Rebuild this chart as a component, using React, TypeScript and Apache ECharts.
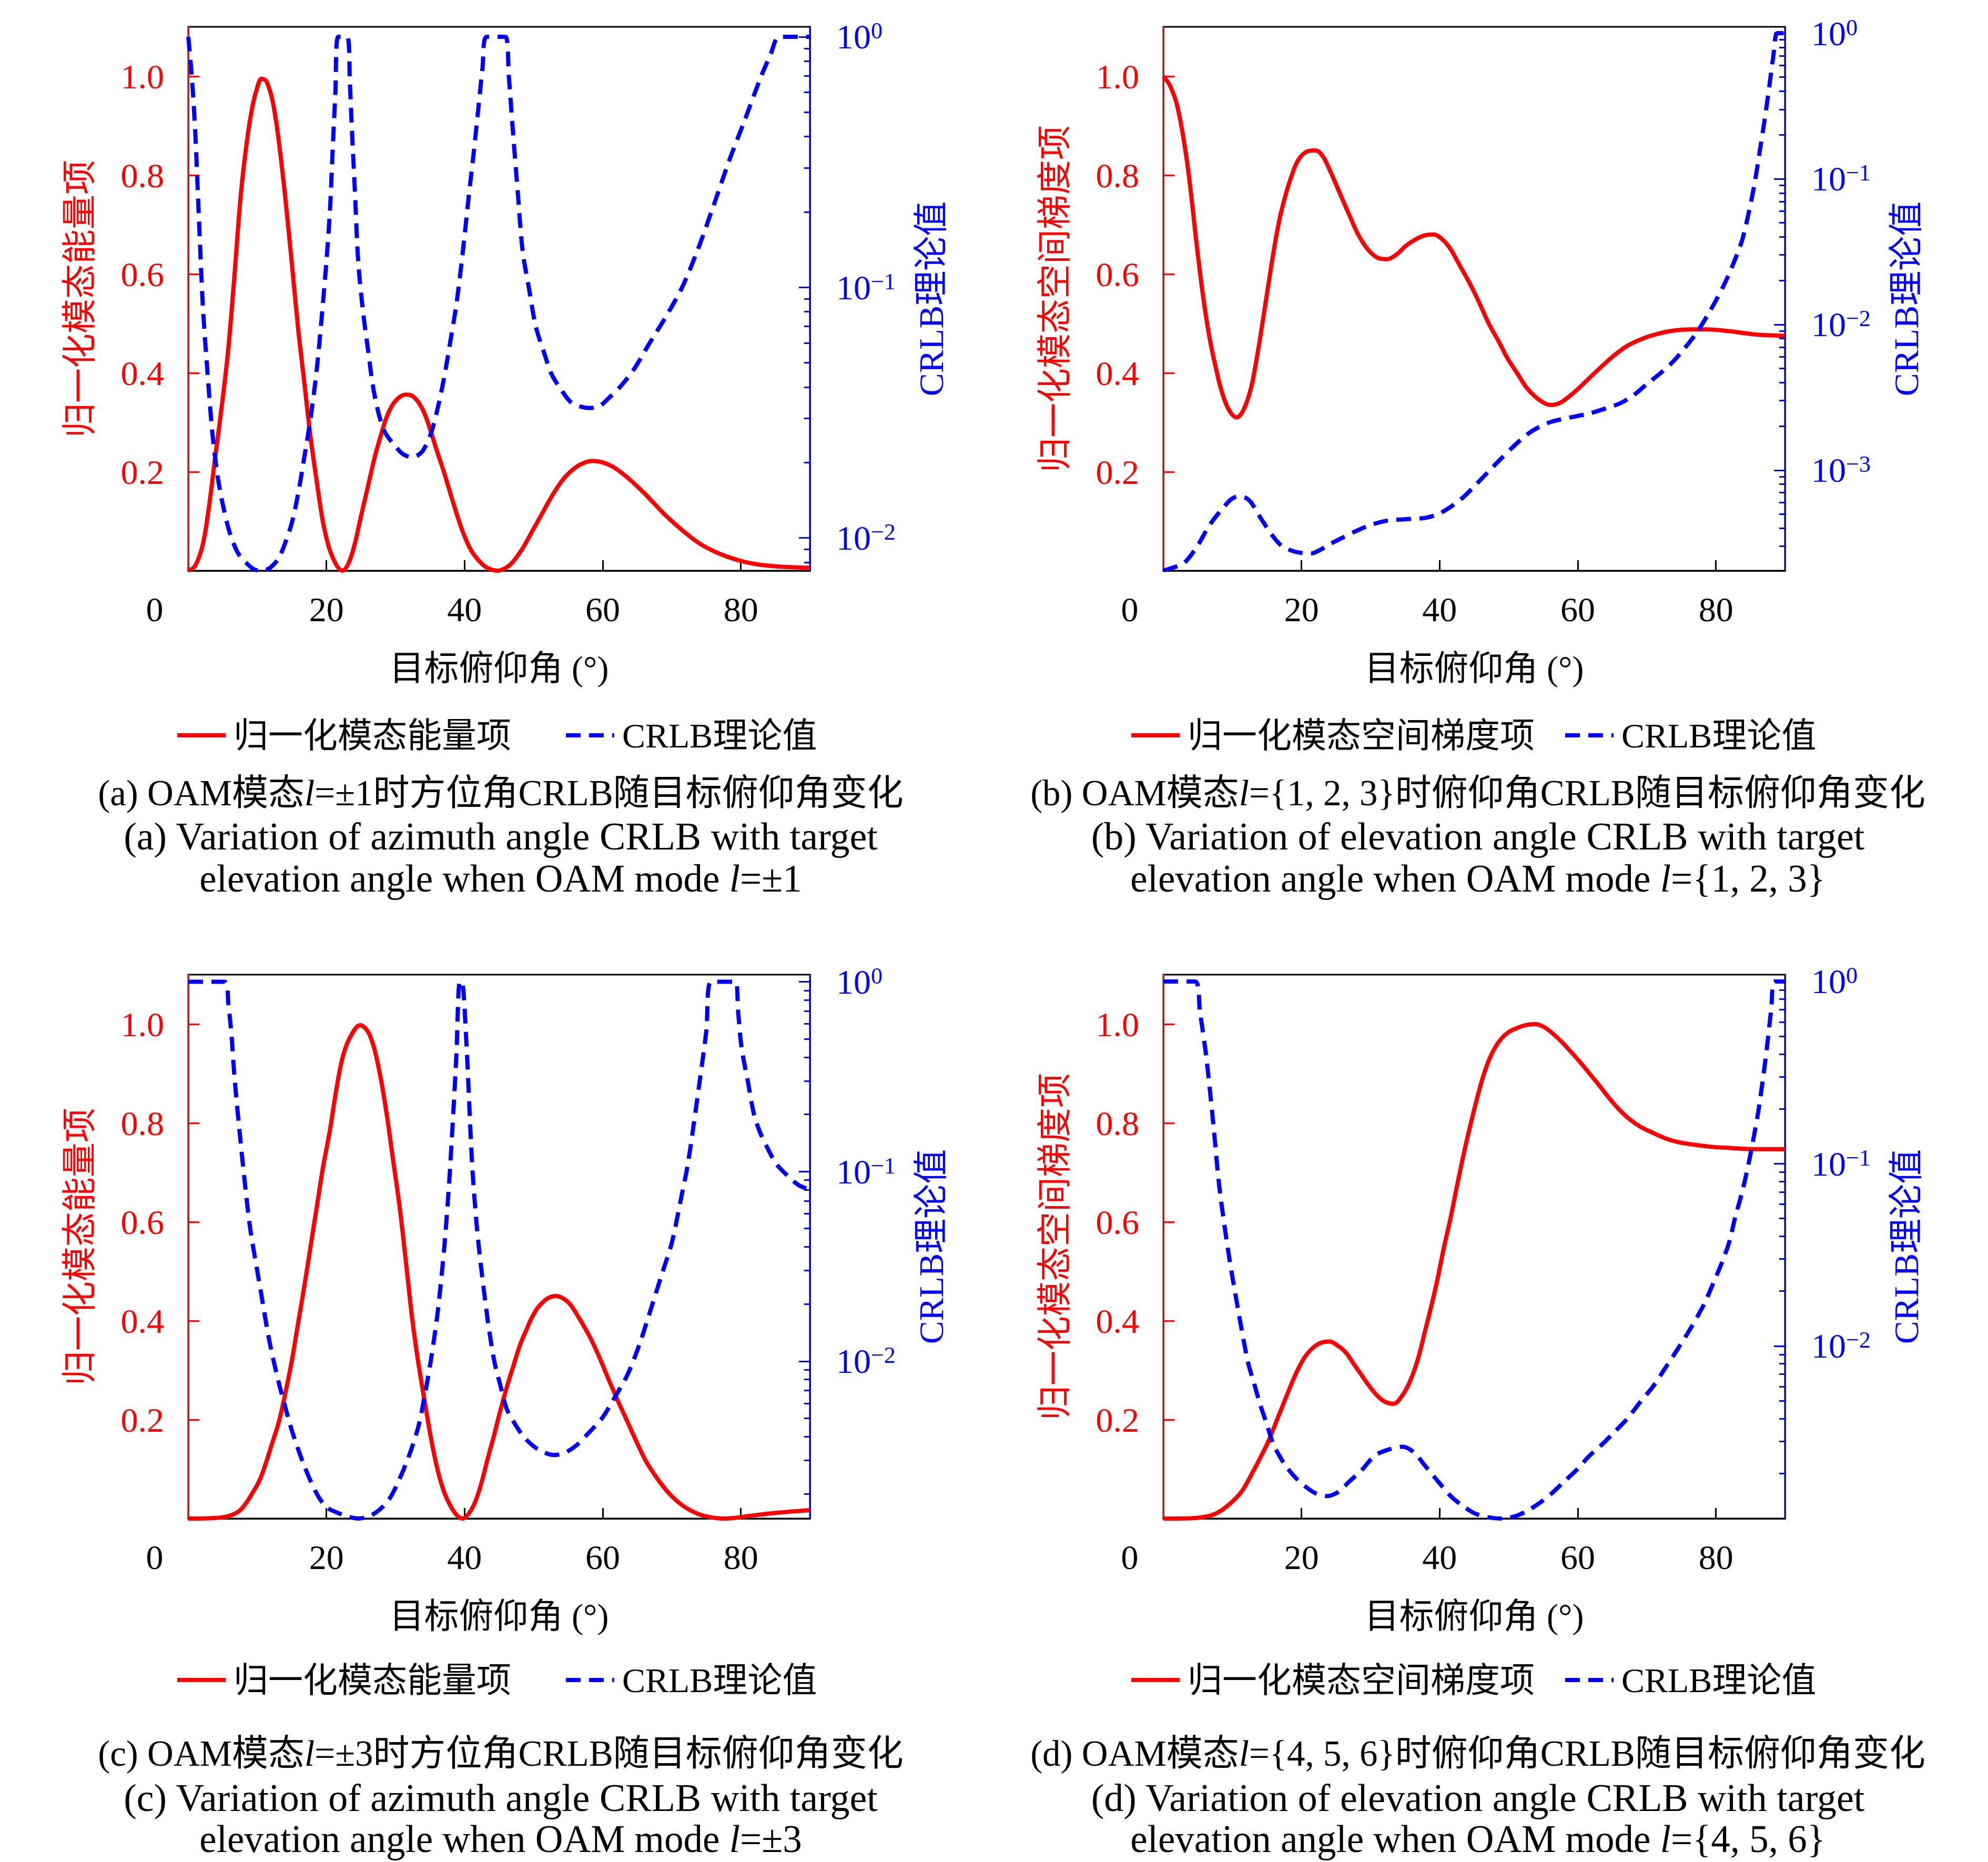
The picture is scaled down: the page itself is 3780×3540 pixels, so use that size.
import React, { useEffect, useRef } from 'react';
import * as echarts from 'echarts';

const FONT = "'Liberation Serif', 'Noto Sans CJK SC', serif";
const RED = '#ff0000';
const BLUE = '#0000ff';

// ---------- data ----------
const aRedX = [0, 1, 2.1, 3, 3.9, 5, 5.8, 6.7, 7.6, 8.5, 9.3, 10, 10.6, 11.3, 12.2, 13, 14, 15, 15.9, 16.8, 17.7, 18.6, 19.5, 20.3, 20.9, 21.6, 22.3, 23.2, 24.1, 25, 26, 27, 27.8, 28.7, 29.6, 30.5, 31.4, 32.2, 33.2, 34.2, 35.1, 36, 37, 38.3, 39.7, 41, 42.5, 43.7, 44.8, 46, 47, 48.4, 49.8, 51.2, 52.6, 54, 55.3, 56.8, 58.5, 60, 61.5, 63, 64.5, 66, 67.5, 69.1, 71.5, 73.7, 76, 78.3, 80.5, 82.8, 86, 90];
const aRedY = [0, 0.01, 0.053, 0.13, 0.23, 0.35, 0.45, 0.6, 0.76, 0.87, 0.94, 0.978, 0.995, 0.99, 0.95, 0.88, 0.76, 0.62, 0.49, 0.38, 0.27, 0.18, 0.098, 0.05, 0.027, 0.008, 0, 0.015, 0.054, 0.11, 0.17, 0.23, 0.27, 0.31, 0.336, 0.35, 0.356, 0.355, 0.343, 0.318, 0.282, 0.242, 0.2, 0.14, 0.08, 0.04, 0.014, 0.003, 0, 0.006, 0.018, 0.045, 0.08, 0.115, 0.15, 0.18, 0.2, 0.215, 0.222, 0.219, 0.21, 0.195, 0.177, 0.157, 0.135, 0.112, 0.082, 0.058, 0.04, 0.027, 0.018, 0.012, 0.008, 0.006];
const aBlueX = [0, 0.5, 1, 1.5, 2.1, 2.8, 3.5, 4.2, 4.9, 6, 7.2, 8.5, 9.5, 10.4, 11.5, 12.3, 13.1, 14, 15, 15.9, 16.8, 17.7, 18.6, 19.3, 20, 20.5, 20.9, 21.3, 21.7, 23, 23.4, 23.7, 24.1, 24.6, 25.3, 26, 26.9, 28.3, 30.1, 31.2, 32.4, 33.8, 35.1, 36, 37, 37.9, 38.8, 39.7, 40.6, 41.3, 42, 42.6, 43.2, 45.9, 46.4, 47, 47.7, 48.4, 49.3, 50.3, 51.5, 52.6, 54, 55.3, 56.7, 58.1, 59.5, 60.8, 62.5, 64.5, 66.8, 69.1, 71.5, 73.7, 76, 78.3, 80.5, 82.8, 84.3, 85.6, 90];
const aBlueY = [1, 0.7, 0.42, 0.2, 0.085, 0.045, 0.026, 0.018, 0.014, 0.0105, 0.0087, 0.0079, 0.0075, 0.0074, 0.0075, 0.0078, 0.0083, 0.0095, 0.0115, 0.015, 0.021, 0.03, 0.047, 0.075, 0.127, 0.2, 0.35, 0.6, 1, 1, 0.65, 0.42, 0.25, 0.127, 0.08, 0.057, 0.038, 0.027, 0.023, 0.0215, 0.021, 0.022, 0.026, 0.032, 0.043, 0.06, 0.085, 0.135, 0.23, 0.34, 0.52, 0.75, 1, 1, 0.7, 0.42, 0.24, 0.14, 0.1, 0.07, 0.055, 0.045, 0.039, 0.035, 0.0335, 0.033, 0.0335, 0.036, 0.04, 0.047, 0.06, 0.076, 0.1, 0.14, 0.21, 0.32, 0.46, 0.68, 0.85, 1, 1];

const bRedX = [0, 1, 2.1, 3.5, 4.9, 5.8, 6.7, 7.6, 8.5, 9.5, 10.6, 11.6, 12.7, 13.4, 14, 15, 15.9, 16.8, 17.7, 18.6, 19.5, 20.7, 22, 23, 24.1, 25.5, 26.9, 28.2, 29.6, 31, 32.4, 33.8, 35.1, 36.5, 37.8, 39.1, 40.4, 41.6, 43, 44.4, 45.8, 47.1, 48.5, 49.8, 51.2, 52.6, 54, 55.3, 56.2, 57.5, 58.7, 59.9, 61.7, 63.6, 65.4, 67.2, 69.5, 71.8, 74, 76.4, 78.7, 81, 83.3, 85.6, 88, 90];
const bRedY = [1.0, 0.98, 0.935, 0.82, 0.65, 0.55, 0.47, 0.41, 0.36, 0.325, 0.31, 0.325, 0.37, 0.42, 0.47, 0.56, 0.64, 0.71, 0.76, 0.8, 0.83, 0.847, 0.85, 0.84, 0.81, 0.765, 0.72, 0.68, 0.65, 0.633, 0.63, 0.64, 0.657, 0.67, 0.678, 0.68, 0.67, 0.65, 0.615, 0.58, 0.54, 0.5, 0.465, 0.43, 0.4, 0.37, 0.35, 0.338, 0.335, 0.34, 0.352, 0.366, 0.39, 0.415, 0.437, 0.455, 0.47, 0.48, 0.486, 0.488, 0.488, 0.486, 0.482, 0.478, 0.476, 0.475];
const bBlueX = [0, 1.5, 3, 4.9, 6.7, 8.5, 9.8, 10.8, 11.8, 12.7, 14.2, 15.9, 17.2, 18.6, 20, 21.4, 22.8, 24.1, 26, 27.8, 30, 32.4, 35, 37.9, 39.8, 41.6, 43.4, 45.2, 47, 48.9, 50.8, 52.6, 54.4, 56.2, 58.9, 61.7, 64, 66.3, 68.2, 70, 71.9, 73.7, 75.5, 77.3, 79.2, 81, 82.5, 83.8, 84.8, 85.6, 86.3, 87, 87.7, 88.3, 88.9, 90];
const bBlueY = [2.05e-4, 2.15e-4, 2.3e-4, 3.0e-4, 4.2e-4, 5.4e-4, 6.3e-4, 6.6e-4, 6.5e-4, 6.0e-4, 4.6e-4, 3.5e-4, 3.0e-4, 2.8e-4, 2.7e-4, 2.68e-4, 2.85e-4, 3.1e-4, 3.45e-4, 3.8e-4, 4.2e-4, 4.5e-4, 4.6e-4, 4.7e-4, 5.0e-4, 5.6e-4, 6.5e-4, 7.9e-4, 9.7e-4, 1.2e-3, 1.47e-3, 1.75e-3, 1.98e-3, 2.15e-3, 2.3e-3, 2.45e-3, 2.65e-3, 2.9e-3, 3.3e-3, 3.9e-3, 4.6e-3, 5.5e-3, 6.9e-3, 8.9e-3, 0.0125, 0.018, 0.026, 0.038, 0.06, 0.093, 0.15, 0.245, 0.42, 0.69, 1, 1];

const cRedX = [0, 3, 5.8, 7.6, 9.4, 10.4, 11.3, 12.2, 13.1, 14, 15, 15.9, 16.8, 17.7, 18.6, 19.5, 20.5, 21.4, 22.3, 23.3, 24.9, 26, 26.9, 27.8, 28.7, 29.6, 30.6, 31.5, 32.4, 33.3, 34.2, 35.1, 36.1, 37, 37.9, 38.8, 39.7, 40.6, 41.6, 42.5, 43.4, 44.3, 45.2, 46.1, 47.1, 48, 48.9, 49.8, 50.7, 52, 53.2, 54.3, 55.3, 56.6, 58, 59.4, 60.8, 62.2, 63.6, 64.9, 66.3, 68.2, 70, 71.8, 73.7, 75.5, 77.4, 79, 81, 82.8, 84.7, 87.3, 90];
const cRedY = [0, 0.0005, 0.005, 0.018, 0.054, 0.08, 0.115, 0.155, 0.195, 0.25, 0.32, 0.395, 0.47, 0.55, 0.63, 0.71, 0.785, 0.865, 0.93, 0.97, 0.998, 0.985, 0.952, 0.895, 0.82, 0.73, 0.63, 0.52, 0.406, 0.315, 0.239, 0.165, 0.098, 0.055, 0.027, 0.008, 0, 0.01, 0.036, 0.075, 0.124, 0.17, 0.22, 0.265, 0.31, 0.35, 0.38, 0.408, 0.428, 0.445, 0.45, 0.445, 0.433, 0.405, 0.371, 0.33, 0.283, 0.238, 0.195, 0.155, 0.115, 0.075, 0.045, 0.024, 0.01, 0.003, 0, 0.001, 0.005, 0.008, 0.011, 0.014, 0.017];
const cBlueX = [0, 5.3, 5.8, 6.3, 6.7, 7.6, 8.3, 9, 10.4, 11.7, 13.1, 14, 15, 16.8, 18.6, 20, 21.4, 23, 24.6, 26.2, 27.8, 29.2, 30.6, 32, 33.3, 34.2, 35.1, 36.1, 37, 37.7, 38.3, 38.8, 39.3, 39.6, 40.2, 41.1, 41.8, 42.5, 43.4, 44.3, 45.2, 46.1, 47.4, 48.8, 50.8, 53, 54.6, 56.2, 58, 59.9, 61.7, 63.6, 65.4, 67.2, 68.6, 70, 71.2, 72.3, 73.2, 74.1, 75, 75.7, 79.2, 79.6, 80.1, 81, 81.9, 82.8, 83.8, 85.1, 86.5, 88.3, 90];
const cBlueY = [1, 1, 0.77, 0.5, 0.31, 0.14, 0.08, 0.049, 0.0245, 0.013, 0.0077, 0.0058, 0.0043, 0.0028, 0.002, 0.0017, 0.0016, 0.00152, 0.00148, 0.00152, 0.00166, 0.0019, 0.0024, 0.0032, 0.0045, 0.0065, 0.01, 0.018, 0.0376, 0.08, 0.184, 0.4, 1, 1, 0.53, 0.108, 0.05, 0.029, 0.016, 0.01, 0.0074, 0.0056, 0.0046, 0.0039, 0.0034, 0.0032, 0.0033, 0.0036, 0.0042, 0.005, 0.0064, 0.0085, 0.0125, 0.02, 0.029, 0.042, 0.068, 0.108, 0.18, 0.31, 0.55, 1, 1, 0.7, 0.45, 0.3, 0.2, 0.16, 0.134, 0.11, 0.097, 0.085, 0.08];

const dRedX = [0, 4, 5.8, 7.6, 9.4, 11.3, 13.1, 14, 15, 15.9, 16.8, 17.7, 18.6, 19.5, 20.5, 21.4, 22.3, 23.2, 24.1, 25.2, 26.4, 27.5, 28.7, 29.8, 31, 32.1, 33.3, 34.4, 35.6, 36.8, 37.9, 38.8, 39.7, 40.6, 41.6, 42.5, 43.4, 44.3, 45.2, 46.1, 47.1, 48, 48.9, 50, 51.2, 52.5, 53.8, 55, 56.2, 57.6, 59, 60.4, 61.7, 63.1, 64.5, 65.8, 67.2, 69, 70.9, 72.7, 74.6, 76.9, 79.2, 81.5, 83.8, 87, 90];
const dRedY = [0, 0.0005, 0.003, 0.01, 0.027, 0.054, 0.098, 0.122, 0.15, 0.18, 0.212, 0.243, 0.274, 0.302, 0.327, 0.342, 0.352, 0.357, 0.358, 0.35, 0.336, 0.314, 0.29, 0.268, 0.248, 0.236, 0.232, 0.245, 0.274, 0.32, 0.38, 0.43, 0.485, 0.547, 0.609, 0.672, 0.732, 0.787, 0.838, 0.885, 0.926, 0.952, 0.97, 0.984, 0.992, 0.998, 1.0, 0.995, 0.983, 0.965, 0.944, 0.922, 0.9, 0.876, 0.851, 0.83, 0.811, 0.793, 0.78, 0.769, 0.761, 0.756, 0.752, 0.75, 0.748, 0.747, 0.747];
const dBlueX = [0, 4.6, 5.3, 6.2, 7.2, 8.1, 9.4, 10.8, 12.2, 13.1, 14, 15, 15.9, 16.8, 17.7, 19.1, 20.5, 22.1, 23.7, 25.3, 26.9, 28.8, 30.6, 32.6, 34.7, 36.3, 37.9, 39.8, 41.6, 43.4, 45.2, 47, 48.9, 50.8, 52.6, 54.4, 56.2, 58, 59.9, 61.7, 63.6, 65.4, 67.2, 69, 70.9, 72.7, 74.6, 76.5, 78.3, 79.7, 81, 82, 82.8, 83.8, 84.7, 85.4, 86.1, 86.8, 87.4, 88, 88.5, 90];
const dBlueY = [1, 1, 0.68, 0.39, 0.17, 0.075, 0.033, 0.016, 0.0083, 0.0063, 0.0048, 0.0037, 0.0029, 0.0025, 0.0022, 0.0019, 0.0017, 0.00155, 0.0015, 0.00158, 0.0018, 0.0021, 0.0025, 0.0027, 0.0028, 0.0026, 0.0022, 0.0018, 0.0015, 0.00132, 0.0012, 0.00115, 0.00113, 0.00116, 0.00124, 0.00137, 0.00155, 0.0018, 0.0021, 0.0025, 0.0029, 0.0034, 0.004, 0.0049, 0.006, 0.0076, 0.0098, 0.0128, 0.017, 0.0225, 0.0295, 0.038, 0.051, 0.07, 0.099, 0.135, 0.19, 0.29, 0.44, 0.7, 1, 1];

// axis ranges and tick labels
const xTickLabels = [0, 20, 40, 60, 80];
const xTicks = [20, 40, 60, 80];
const leftTicks = [0.2, 0.4, 0.6, 0.8, 1.0];
const logMins = [0.0074, 2.04e-4, 1.48e-3, 1.13e-3];
const logMaxs = [1.096, 1.105, 1.09, 1.09];

const xName = '目标俯仰角 (°)';
const crlbName = 'CRLB理论值';
const leftNames = ['归一化模态能量项', '归一化模态空间梯度项', '归一化模态能量项', '归一化模态空间梯度项'];

const captions = [
  ['(a) OAM模态{i|l}=±1时方位角CRLB随目标俯仰角变化', '(a) Variation of azimuth angle CRLB with target', 'elevation angle when OAM mode {i|l}=±1'],
  ['(b) OAM模态{i|l}={1, 2, 3}时俯仰角CRLB随目标俯仰角变化', '(b) Variation of elevation angle CRLB with target', 'elevation angle when OAM mode {i|l}={1, 2, 3}'],
  ['(c) OAM模态{i|l}=±3时方位角CRLB随目标俯仰角变化', '(c) Variation of azimuth angle CRLB with target', 'elevation angle when OAM mode {i|l}=±3'],
  ['(d) OAM模态{i|l}={4, 5, 6}时俯仰角CRLB随目标俯仰角变化', '(d) Variation of elevation angle CRLB with target', 'elevation angle when OAM mode {i|l}={4, 5, 6}'],
];

const redSets = [[aRedX, aRedY], [bRedX, bRedY], [cRedX, cRedY], [dRedX, dRedY]];
const blueSets = [[aBlueX, aBlueY], [bBlueX, bBlueY], [cBlueX, cBlueY], [dBlueX, dBlueY]];

// ---------- layout ----------
const GRID_POS = [[358, 51], [2212, 51], [358, 1853], [2212, 1853]];
const GW = 1182;
const GH = 1034;
const LEGEND_POS = [[333, 1403, 100], [2147, 1403, 54], [333, 3199, 100], [2147, 3199, 54]];
const CAP_X = [952, 2810, 952, 2810];
const CAP_Y = [[1508, 1590, 1670], [1508, 1590, 1670], [3334, 3418, 3496], [3334, 3418, 3496]];
const CAP_SIZE = [69, 74, 73];

const pair = (xs: number[], ys: number[]) => xs.map((x, i) => [x, ys[i]]);

function logMajors(min: number, max: number) {
  const out: number[] = [];
  for (let e = Math.floor(Math.log10(min)); e <= Math.ceil(Math.log10(max)); e++) {
    const v = Math.pow(10, e);
    if (v >= min && v <= max) out.push(v);
  }
  return out;
}
function logMinors(min: number, max: number) {
  const out: number[] = [];
  for (let e = Math.floor(Math.log10(min)); e <= Math.ceil(Math.log10(max)); e++) {
    for (let k = 2; k <= 9; k++) {
      const v = k * Math.pow(10, e);
      if (v >= min && v <= max) out.push(v);
    }
  }
  return out;
}

function buildOption() {
  const grid: any[] = [];
  const xAxis: any[] = [];
  const yAxis: any[] = [];
  const series: any[] = [];
  const legend: any[] = [];
  const graphic: any[] = [];

  // main grids 0..3
  for (let p = 0; p < 4; p++) {
    const [gl, gt] = GRID_POS[p];
    grid.push({ left: gl, top: gt, width: GW, height: GH, show: true, borderColor: '#000', borderWidth: 3, backgroundColor: 'transparent' });
  }
  // thin helper grids 4..7 sitting on the right edge, carrying the log minor ticks
  for (let p = 0; p < 4; p++) {
    const [gl, gt] = GRID_POS[p];
    grid.push({ left: gl + GW, top: gt, width: 4, height: GH, show: false });
  }

  for (let p = 0; p < 4; p++) {
    xAxis.push({
      type: 'value', gridIndex: p, min: 0, max: 90,
      axisLine: { show: true, onZero: false, lineStyle: { color: '#000', width: 3 } },
      axisTick: { show: true, inside: true, length: 20, lineStyle: { color: '#000', width: 3 }, customValues: xTicks },
      axisLabel: {
        customValues: xTickLabels, margin: 40, color: '#000', fontSize: 66, fontFamily: FONT,
        formatter: (v: number) => (v === 0 ? '{z|0}' : String(v)),
        rich: { z: { fontSize: 66, fontFamily: FONT, color: '#000', padding: [0, 128, 0, 0] } },
      },
      splitLine: { show: false },
      name: xName, nameLocation: 'middle', nameGap: 152,
      nameTextStyle: { fontSize: 66, fontFamily: FONT, color: '#000' },
    });
  }
  for (let p = 0; p < 4; p++) {
    xAxis.push({ type: 'value', gridIndex: 4 + p, min: 0, max: 1, show: false });
  }

  for (let p = 0; p < 4; p++) {
    const lmin = logMins[p];
    const lmax = logMaxs[p];
    const majors = logMajors(lmin, lmax);
    yAxis.push({
      type: 'value', gridIndex: p, min: 0, max: 1.1, position: 'left',
      axisLine: { show: true, onZero: false, lineStyle: { color: RED, width: 3 } },
      axisTick: { show: true, inside: true, length: 21, lineStyle: { color: RED, width: 3 }, customValues: leftTicks },
      axisLabel: { customValues: leftTicks, margin: 46, color: RED, fontSize: 66, fontFamily: FONT, formatter: (v: number) => v.toFixed(1) },
      splitLine: { show: false },
      name: leftNames[p], nameLocation: 'middle', nameGap: 174,
      nameTextStyle: { fontSize: 66, fontFamily: FONT, color: RED },
    });
    yAxis.push({
      type: 'log', logBase: 10, gridIndex: p, min: lmin, max: lmax, position: 'right',
      axisLine: { show: true, onZero: false, lineStyle: { color: BLUE, width: 3 } },
      axisTick: { show: true, inside: true, length: 21, lineStyle: { color: BLUE, width: 3 }, customValues: majors },
      axisLabel: {
        customValues: majors, margin: 50, color: BLUE, fontFamily: FONT, fontSize: 66,
        formatter: (v: number) => {
          const e = Math.round(Math.log10(v));
          return '{b|10}{s|' + (e < 0 ? '\u2212' + -e : String(e)) + '}';
        },
        rich: {
          b: { fontSize: 66, fontFamily: FONT, color: BLUE },
          s: { fontSize: 44, fontFamily: FONT, color: BLUE, verticalAlign: 'top' },
        },
      },
      splitLine: { show: false },
      name: crlbName, nameLocation: 'middle', nameGap: 197,
      nameTextStyle: { fontSize: 66, fontFamily: FONT, color: BLUE },
    });
  }
  for (let p = 0; p < 4; p++) {
    const lmin = logMins[p];
    const lmax = logMaxs[p];
    // a left axis on the helper grid, whose outward ticks point back into the main plot
    yAxis.push({
      type: 'log', logBase: 10, gridIndex: 4 + p, min: lmin, max: lmax, position: 'left',
      axisLine: { show: false },
      axisTick: { show: true, inside: false, length: 11, lineStyle: { color: BLUE, width: 3 }, customValues: logMinors(lmin, lmax) },
      axisLabel: { show: false },
      splitLine: { show: false },
    });
  }

  for (let p = 0; p < 4; p++) {
    series.push({
      type: 'line', name: leftNames[p], xAxisIndex: p, yAxisIndex: p * 2,
      data: pair(redSets[p][0], redSets[p][1]), symbol: 'none', smooth: 0.35, clip: true,
      lineStyle: { color: RED, width: 8 }, itemStyle: { color: RED },
    });
    series.push({
      type: 'line', name: crlbName, xAxisIndex: p, yAxisIndex: p * 2 + 1,
      data: pair(blueSets[p][0], blueSets[p][1]), symbol: 'none', smooth: 0.3, clip: true,
      lineStyle: { color: BLUE, width: 8, type: [28, 16] }, itemStyle: { color: BLUE },
    });

    const [ll, lc, gap] = LEGEND_POS[p];
    legend.push({
      data: [leftNames[p], crlbName], left: ll, top: lc - 38, padding: 0,
      itemWidth: 92, itemHeight: 20, itemGap: gap, selectedMode: false,
      itemStyle: { opacity: 0, borderWidth: 0 },
      lineStyle: { width: 8 },
      textStyle: { fontSize: 66, fontFamily: FONT, color: '#000', padding: [0, 0, 0, 10] },
    });

    for (let k = 0; k < 3; k++) {
      graphic.push({
        type: 'text', x: CAP_X[p], y: CAP_Y[p][k],
        style: {
          text: captions[p][k], fill: '#000', fontSize: CAP_SIZE[k], fontFamily: FONT,
          align: 'center', verticalAlign: 'middle',
          rich: { i: { fontSize: CAP_SIZE[k], fontFamily: FONT, fontStyle: 'italic', fill: '#000' } },
        },
      });
    }
  }

  return { animation: false, backgroundColor: '#fff', grid, xAxis, yAxis, series, legend, graphic };
}

export default function App() {
  const ref = useRef<HTMLDivElement>(null);
  useEffect(() => {
    if (!ref.current) return;
    const chart = echarts.init(ref.current, undefined, { renderer: 'svg' });
    chart.setOption(buildOption() as any);
    return () => chart.dispose();
  }, []);
  return <div ref={ref} style={{ position: 'fixed', left: 0, top: 0, width: 3780, height: 3540, background: '#fff' }} />;
}
